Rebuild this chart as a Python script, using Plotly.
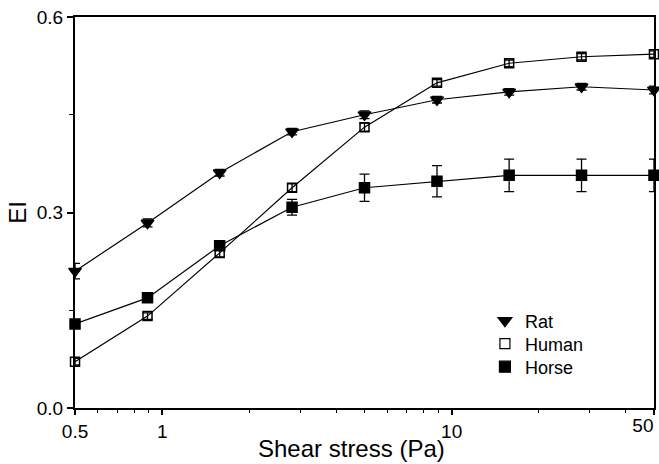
import plotly.graph_objects as go

stress = [0.5, 0.89, 1.58, 2.81, 5.0, 8.9, 15.8, 28.1, 50.0]
rat = [0.210, 0.284, 0.361, 0.424, 0.450, 0.473, 0.485, 0.493, 0.488]
rat_err = [0.012, 0.006, 0.005, 0.005, 0.006, 0.005, 0.005, 0.005, 0.006]
human = [0.071, 0.141, 0.238, 0.338, 0.431, 0.499, 0.529, 0.539, 0.543]
human_err = [0.005, 0.005, 0.006, 0.006, 0.006, 0.005, 0.005, 0.005, 0.005]
horse = [0.129, 0.169, 0.249, 0.308, 0.338, 0.348, 0.357, 0.357, 0.357]
horse_err = [0.005, 0.005, 0.006, 0.012, 0.021, 0.024, 0.025, 0.025, 0.025]

xticks = [0.5, 1, 10, 50]
xticklabels = ["0.5", "1", "10", ""]
xend_tick = [50]
xend_label = ["50"]
xminor = [0.6, 0.7, 0.8, 0.9, 2, 3, 4, 5, 6, 7, 8, 9, 20, 30, 40]
yticks = [0.0, 0.3, 0.6]
yticklabels = ["0.0", "0.3", "0.6"]

FONT = "Liberation Sans, Arial, sans-serif"
XRANGE = [-0.30110, 1.69905]

series = [
    ("Rat", rat, rat_err, "triangle-down", 11, "legend", 0.2225),
    ("Human", human, human_err, "square-open", 9, "legend2", 0.1637),
    ("Horse", horse, horse_err, "square", 10, "legend3", 0.1049),
]

fig = go.Figure()
for name, vals, err, sym, size, lg, ly in series:
    fig.add_trace(go.Scatter(
        x=stress, y=vals, mode="lines+markers", name=name, showlegend=False,
        line=dict(color="black", width=1.2),
        marker=dict(symbol=sym, size=size, color="black",
                    line=dict(color="black", width=1.5)),
        error_y=dict(type="data", array=err, color="black", thickness=1.3, width=5),
        cliponaxis=False,
    ))
legends = {}
for name, vals, err, sym, size, lg, ly in series:
    fig.add_trace(go.Scatter(
        x=[None], y=[None], mode="markers", name=name, showlegend=True,
        legend=lg,
        marker=dict(symbol=sym, size=size + 1, color="black",
                    line=dict(color="black", width=1.2)),
    ))
    legends[lg] = dict(x=0.708, y=ly, xanchor="left", yanchor="middle",
                       bgcolor="rgba(0,0,0,0)", font=dict(size=18),
                       itemwidth=30)

# invisible helper trace so the overlay axis carrying the "50" label is drawn
fig.add_trace(go.Scatter(x=[None], y=[None], xaxis="x2", yaxis="y",
                         mode="markers", showlegend=False, hoverinfo="skip"))

fig.update_layout(
    width=659, height=464,
    margin=dict(l=75, r=5, t=17, b=56, autoexpand=False),
    paper_bgcolor="white", plot_bgcolor="white",
    font=dict(family=FONT, color="black", size=18),
    xaxis=dict(
        type="log", range=XRANGE, automargin=False,
        tickvals=xticks, ticktext=xticklabels,
        ticks="outside", ticklen=5, tickwidth=1.5, tickcolor="black",
        showline=True, linecolor="black", linewidth=2, mirror=True,
        showgrid=False, zeroline=False,
        minor=dict(tickvals=xminor, ticks="outside", ticklen=3, tickwidth=1.2,
                   tickcolor="black", showgrid=False),
        tickfont=dict(size=19),
    ),
    xaxis2=dict(
        type="log", range=XRANGE, overlaying="x", anchor="y",
        side="bottom", automargin=False,
        tickvals=xend_tick, ticktext=xend_label,
        ticklabelposition="outside left", ticks="outside", ticklen=5,
        tickcolor="rgba(0,0,0,0)", showline=False, showgrid=False,
        zeroline=False, tickfont=dict(size=19),
    ),
    yaxis=dict(
        range=[0, 0.6], automargin=False,
        tickvals=yticks, ticktext=yticklabels,
        ticks="outside", ticklen=6, tickwidth=1.5, tickcolor="black",
        showline=True, linecolor="black", linewidth=2, mirror=True,
        showgrid=False, zeroline=False,
        minor=dict(tickvals=[0.15, 0.45], ticks="outside", ticklen=4, tickwidth=1.2,
                   tickcolor="black", showgrid=False),
        title=dict(text="EI", font=dict(size=24), standoff=3),
        tickfont=dict(size=19),
    ),
    **legends,
)
fig.add_annotation(
    text="Shear stress (Pa)", xref="paper", yref="paper",
    x=0.478, y=-(449 - 408) / 391, xanchor="center", yanchor="middle",
    showarrow=False, font=dict(size=24),
)

fig.write_html("out.html")
